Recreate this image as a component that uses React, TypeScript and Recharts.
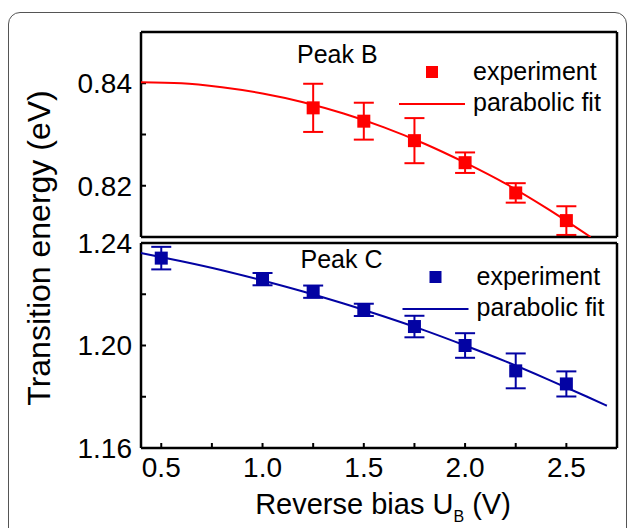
import React from "react";
import { ScatterChart, Scatter, XAxis, YAxis, ErrorBar, Legend } from "recharts";

// Peak B (top panel)
const voltageB = [1.25, 1.5, 1.75, 2.0, 2.25, 2.5];
const energyB = [0.8352, 0.8326, 0.8288, 0.8245, 0.8186, 0.8132];
const errorB = [0.0047, 0.0036, 0.0044, 0.002, 0.0019, 0.0028];
const fitVoltageB = [0.4, 0.6, 0.8, 1.0, 1.2, 1.4, 1.6, 1.8, 2.0, 2.2, 2.4, 2.62];
const fitEnergyB = [0.8402, 0.84, 0.8392, 0.838, 0.8363, 0.8341, 0.8314, 0.8282, 0.8245, 0.8204, 0.8157, 0.81];

// Peak C (bottom panel)
const voltageC = [0.5, 1.0, 1.25, 1.5, 1.75, 2.0, 2.25, 2.5];
const energyC = [1.2341, 1.2259, 1.221, 1.2139, 1.2074, 1.2, 1.1901, 1.185];
const errorC = [0.0044, 0.0024, 0.0024, 0.0024, 0.0042, 0.0048, 0.0068, 0.0049];
const fitVoltageC = [0.4, 0.6, 0.8, 1.0, 1.2, 1.4, 1.6, 1.8, 2.0, 2.2, 2.4, 2.6, 2.7];
const fitEnergyC = [1.2361, 1.2329, 1.2294, 1.2254, 1.2211, 1.2164, 1.2113, 1.2059, 1.2, 1.1938, 1.1871, 1.1801, 1.1765];

// axes
const xTicks = [0.5, 0.75, 1.0, 1.25, 1.5, 1.75, 2.0, 2.25, 2.5];
const xLabels = ["0.5", "", "1.0", "", "1.5", "", "2.0", "", "2.5"];
const yTicksB = [0.81, 0.82, 0.83, 0.84, 0.85];
const yLabelsB = ["", "0.82", "", "0.84", ""];
const yTicksC = [1.16, 1.18, 1.2, 1.22, 1.24];
const yLabelsC = ["1.16", "", "1.20", "", "1.24"];

const RED = "#ff0000";
const BLUE = "#0303a3";
const FONT = '"Liberation Sans", Arial, Helvetica, sans-serif';

const pointsB = voltageB.map((x, i) => ({ x, y: energyB[i], err: errorB[i] }));
const fitB = fitVoltageB.map((x, i) => ({ x, y: fitEnergyB[i] }));
const pointsC = voltageC.map((x, i) => ({ x, y: energyC[i], err: errorC[i] }));
const fitC = fitVoltageC.map((x, i) => ({ x, y: fitEnergyC[i] }));

const axisLine = { stroke: "#000", strokeWidth: 2.5 };
const tickLine = { stroke: "#000", strokeWidth: 2 };
const tickFont = { fontSize: 28, fill: "#000" };

const square = (color: string) => (props: any) => (
  <rect x={props.cx - 6.5} y={props.cy - 6.5} width={13} height={13} fill={color} />
);

function PanelLegend({ title, color, dx }: { title: string; color: string; dx: number }) {
  return (
    <svg width={330} height={90} style={{ fontFamily: FONT, overflow: "visible" }}>
      <text x={7 + dx} y={23} fontSize={25} fill="#000">{title}</text>
      <rect x={136 + dx} y={26} width={12} height={12} fill={color} />
      <text x={183 + dx} y={40} fontSize={25} fill="#000">experiment</text>
      <line x1={109 + dx} x2={175 + dx} y1={64} y2={64} stroke={color} strokeWidth={2} />
      <text x={183 + dx} y={71} fontSize={25} fill="#000">parabolic fit</text>
    </svg>
  );
}

function Panel(props: any) {
  const { points, fit, color, yDomain, yTicks, yLabels, top } = props;
  return (
    <ScatterChart width={629} height={528} margin={props.margin}>
      <XAxis
        dataKey="x"
        type="number"
        domain={[0.4, 2.75]}
        allowDataOverflow
        ticks={xTicks}
        tickFormatter={(v: number) => xLabels[xTicks.indexOf(v)] ?? ""}
        tick={top ? false : tickFont}
        tickSize={-5}
        tickMargin={14}
        height={top ? 1 : 60}
        axisLine={axisLine}
        tickLine={tickLine}
        label={
          top
            ? undefined
            : {
                content: (p: any) => {
                  const vb = p.viewBox;
                  return (
                    <text x={vb.x + vb.width / 2 + 4} y={vb.y + 66} textAnchor="middle" fontSize={29} fill="#000">
                      <tspan>Reverse bias U</tspan>
                      <tspan fontSize={16} dy={8}>B</tspan>
                      <tspan dy={-8}> (V)</tspan>
                    </text>
                  );
                },
              }
        }
      />
      <XAxis
        xAxisId="top"
        orientation="top"
        type="number"
        domain={[0.4, 2.75]}
        allowDataOverflow
        ticks={xTicks}
        tick={false}
        tickLine={top ? tickLine : false}
        tickSize={-5}
        height={top ? 2 : 1}
        axisLine={axisLine}
      />
      <YAxis
        dataKey="y"
        type="number"
        domain={yDomain}
        allowDataOverflow
        ticks={yTicks}
        tickFormatter={(v: number) => yLabels[yTicks.indexOf(v)] ?? ""}
        tick={tickFont}
        tickSize={-5}
        tickMargin={14}
        width={141}
        axisLine={axisLine}
        tickLine={tickLine}
        label={
          top
            ? undefined
            : {
                content: (p: any) => {
                  const vb = p.viewBox;
                  const cx = vb.x + 50;
                  const cy = vb.y + 5;
                  return (
                    <text x={cx} y={cy} textAnchor="middle" fontSize={32} fill="#000" transform={`rotate(-90, ${cx}, ${cy})`}>
                      Transition energy (eV)
                    </text>
                  );
                },
              }
        }
      />
      <YAxis
        yAxisId="right"
        orientation="right"
        type="number"
        domain={yDomain}
        allowDataOverflow
        ticks={yTicks}
        tick={false}
        tickSize={3}
        width={8}
        axisLine={axisLine}
        tickLine={tickLine}
      />
      <Scatter
        data={fit}
        line={{ stroke: color, strokeWidth: 2 }}
        lineJointType="monotoneX"
        shape={() => <g />}
        isAnimationActive={false}
        legendType="none"
      />
      <Scatter data={points} shape={square(color)} isAnimationActive={false}>
        <ErrorBar dataKey="err" direction="y" width={10} stroke={color} strokeWidth={2} />
      </Scatter>
      <Legend
        layout="vertical"
        align="center"
        verticalAlign="middle"
        wrapperStyle={{ left: 290, top: top ? 40 : 245, width: 330, height: 90 }}
        content={() => <PanelLegend title={top ? "Peak B" : "Peak C"} color={color} dx={top ? 0 : 3.5} />}
      />
    </ScatterChart>
  );
}

export default function App() {
  return (
    <div
      style={{
        position: "absolute",
        left: 0,
        top: 0,
        width: 629,
        height: 528,
        overflow: "hidden",
        background: "#fff",
        fontFamily: FONT,
      }}
    >
      <div
        style={{
          position: "absolute",
          left: 8,
          top: 12,
          width: 619,
          height: 600,
          boxSizing: "border-box",
          border: "1.5px solid #555",
          borderRadius: 12,
        }}
      />
      <div style={{ position: "absolute", left: 0, top: 0 }}>
        <Panel
          top
          points={pointsB}
          fit={fitB}
          color={RED}
          yDomain={[0.81, 0.85]}
          yTicks={yTicksB}
          yLabels={yLabelsB}
          margin={{ top: 30, right: 4, bottom: 290, left: 0 }}
        />
      </div>
      <div style={{ position: "absolute", left: 0, top: 0 }}>
        <Panel
          points={pointsC}
          fit={fitC}
          color={BLUE}
          yDomain={[1.16, 1.24]}
          yTicks={yTicksC}
          yLabels={yLabelsC}
          margin={{ top: 242, right: 4, bottom: 20, left: 0 }}
        />
      </div>
    </div>
  );
}
